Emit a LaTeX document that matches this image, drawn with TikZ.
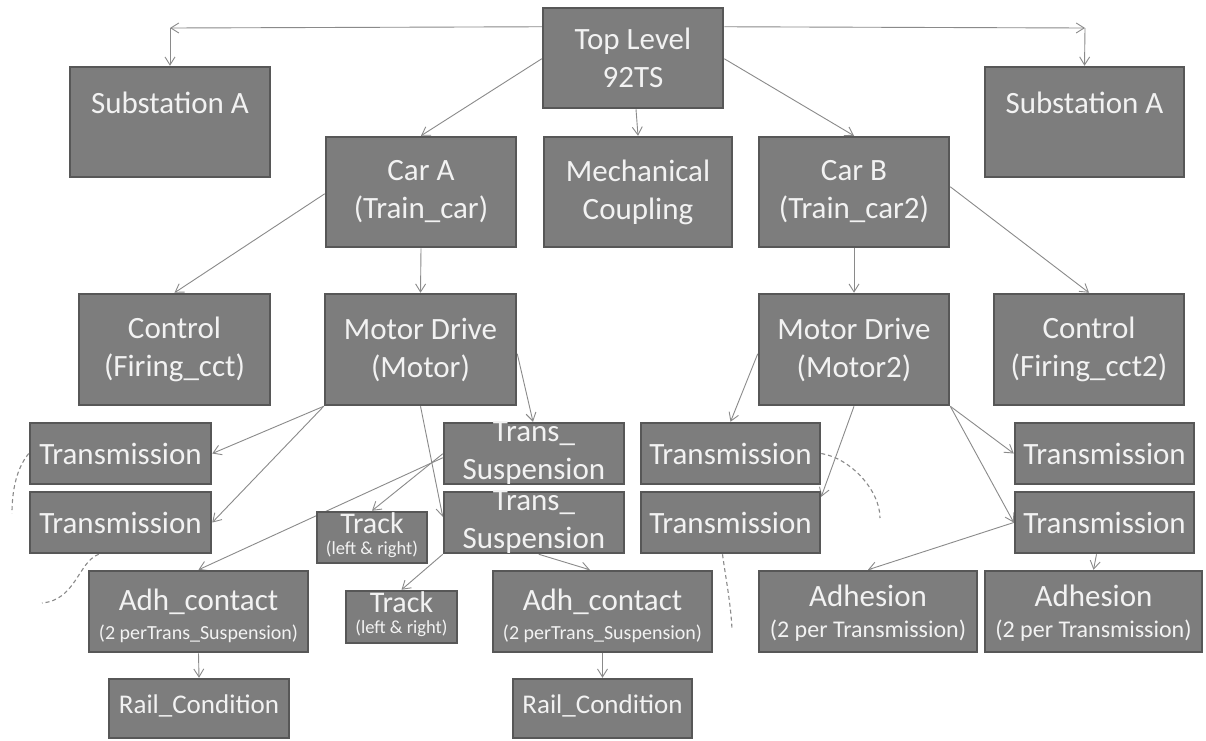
\documentclass[tikz,border=0pt]{standalone}
\usepackage{fontspec}
\setmainfont{Carlito}
\usetikzlibrary{arrows.meta,calc}
\definecolor{boxfill}{HTML}{7D7D7D}
\definecolor{boxline}{HTML}{575757}
\definecolor{boxtext}{HTML}{F2F2F2}
\definecolor{conn}{HTML}{8A8A8A}
\pgfdeclarelayer{paper}
\pgfdeclarelayer{bg}
\pgfsetlayers{paper,bg,main}
\newcommand\drawbox[7]{%
  \node[box, minimum width={#4-#2}, minimum height={#5-#3}] (#1) at ({(#2+#4)/2},{(#3+#5)/2}) {};
  \node[boxlabel] (#1-t) at ([yshift=#6]#1.center) {#7};}
\begin{document}
\begin{tikzpicture}[x=1pt,y=-1pt,
  box/.style={draw=boxline, line width=2.5pt, fill=boxfill, inner sep=0pt},
  boxlabel/.style={text=boxtext, inner sep=0pt, align=center, font=\fontsize{31}{38}\selectfont},
  arr/.style={draw=conn, line width=0.9pt, -{Straight Barb[length=8pt,width=10pt]}},
  dsh/.style={draw=conn, line width=1.1pt, dash pattern=on 4pt off 3pt}]
\begin{pgfonlayer}{paper}
\useasboundingbox[fill=white] (0,0) rectangle (1206,740);
\end{pgfonlayer}

\drawbox{top}{543}{8}{723}{108}{0pt}{Top Level\\92TS}
\drawbox{subL}{70}{67}{270}{177}{19pt}{Substation A}
\drawbox{subR}{985}{67}{1184}{177}{19pt}{Substation A}
\drawbox{carA}{326}{137}{516}{247}{0pt}{Car A\\(Train\_car)}
\drawbox{mech}{544}{137}{732}{247}{0pt}{Mechanical\\Coupling}
\drawbox{carB}{759}{137}{949}{247}{0pt}{Car B\\(Train\_car2)}
\drawbox{ctlA}{79}{294}{270}{405}{0pt}{Control\\(Firing\_cct)}
\drawbox{motA}{325}{294}{516}{405}{0pt}{Motor Drive\\(Motor)}
\drawbox{motB}{759}{294}{949}{405}{0pt}{Motor Drive\\(Motor2)}
\drawbox{ctlB}{994}{294}{1184}{405}{0pt}{Control\\(Firing\_cct2)}
\drawbox{trL1}{30}{423}{211}{484}{0pt}{Transmission}
\drawbox{trL2}{30}{492}{211}{553}{0pt}{Transmission}
\drawbox{tsA}{444}{423}{624}{484}{0pt}{Trans\_\\Suspension}
\drawbox{tsB}{444}{492}{624}{553}{0pt}{Trans\_\\Suspension}
\drawbox{trkA}{317}{512}{427}{563}{2.5pt}{{\fontsize{30}{30}\selectfont Track}\\[-17pt]{\fontsize{18.5}{20}\selectfont (left \& right)}}
\drawbox{trkB}{346}{591}{457}{643}{2.5pt}{{\fontsize{30}{30}\selectfont Track}\\[-17pt]{\fontsize{18.5}{20}\selectfont (left \& right)}}
\drawbox{adcA}{89}{571}{308}{652}{-4.5pt}{Adh\_contact\\[-9pt]{\fontsize{20}{20}\selectfont (2 perTrans\_Suspension)}}
\drawbox{adcB}{493}{571}{712}{652}{-4.5pt}{Adh\_contact\\[-9pt]{\fontsize{20}{20}\selectfont (2 perTrans\_Suspension)}}
\drawbox{railA}{109}{679}{289}{738}{3pt}{\fontsize{27}{30}\selectfont Rail\_Condition}
\drawbox{railB}{513}{679}{692}{738}{3pt}{\fontsize{27}{30}\selectfont Rail\_Condition}
\drawbox{trR1}{641}{423}{820}{484}{0pt}{Transmission}
\drawbox{trR2}{641}{492}{820}{553}{0pt}{Transmission}
\drawbox{trR3}{1015}{423}{1194}{484}{0pt}{Transmission}
\drawbox{trR4}{1015}{492}{1194}{553}{0pt}{Transmission}
\drawbox{adhA}{759}{571}{977}{652}{-2pt}{Adhesion\\[-7pt]{\fontsize{24}{24}\selectfont (2 per Transmission)}}
\drawbox{adhB}{985}{571}{1202}{652}{-2pt}{Adhesion\\[-7pt]{\fontsize{24}{24}\selectfont (2 per Transmission)}}

\coordinate (cL) at (170,28);
\coordinate (cR) at (1085,28);
\coordinate (d1) at (12,513);
\coordinate (d2) at (42,603);
\coordinate (d3) at (880,518);
\coordinate (d4) at (732,630);

\begin{pgfonlayer}{bg}
\draw[arr] ([yshift=-20pt]top.north west) -- (cL);
\draw[arr] (cL) -- (subL.north);
\draw[arr] ([yshift=-20pt]top.north east) -- (cR);
\draw[arr] (cR) -- (subR.north);
\draw[arr] ([yshift=-52pt]top.north west) -- (carA.north);
\draw[arr] ([xshift=3pt]top.south) -- (mech.north);
\draw[arr] ([yshift=-52pt]top.north east) -- (carB.north);
\draw[arr] ([yshift=-58pt]carA.north west) -- (ctlA.north);
\draw[arr] (carA.south) -- (motA.north);
\draw[arr] (carB.south) -- (motB.north);
\draw[arr] ([yshift=-51pt]carB.north east) -- (ctlB.north);
\draw[arr] (motA.south west) -- (trL1.east);
\draw[arr] (motA.south west) -- (trL2.east);
\draw[arr] ([yshift=-61pt]motA.north east) -- ([xshift=-1pt]tsA.north);
\draw[arr] (motA.south) -- ([yshift=-26pt]tsB.north west);
\draw[arr] ([yshift=-32pt]tsA.north west) -- (trkA.north);
\draw[arr] ([yshift=-36pt]tsA.north west) -- (adcA.north);
\draw[arr] (tsB.south west) -- (trkB.north);
\draw[arr] ([xshift=96pt]tsB.south west) -- ([xshift=98pt]adcB.north west);
\draw[arr] (adcA.south) -- (railA.north);
\draw[arr] (adcB.south) -- (railB.north);
\draw[arr] ([yshift=-61pt]motB.north west) -- (trR1.north);
\draw[arr] (motB.south) -- ([yshift=-6pt]trR2.north east);
\draw[arr] (motB.south east) -- (trR3.west);
\draw[arr] (motB.south east) -- (trR4.west);
\draw[arr] (trR4.west) -- (adhA.north);
\draw[arr] ([xshift=-8pt]trR4.south) -- (adhB.north);
\draw[dsh] (trL1.west) .. controls (15,470) and (12,495) .. (d1);
\draw[dsh] ([xshift=70pt]trL2.south west) .. controls (78,562) and (76,600) .. (d2);
\draw[dsh] (trR1.east) .. controls (850,458) and (880,490) .. (d3);
\draw[dsh] ([xshift=-8pt]trR2.south) .. controls (726,580) and (731,605) .. (d4);
\end{pgfonlayer}
\end{tikzpicture}
\end{document}
